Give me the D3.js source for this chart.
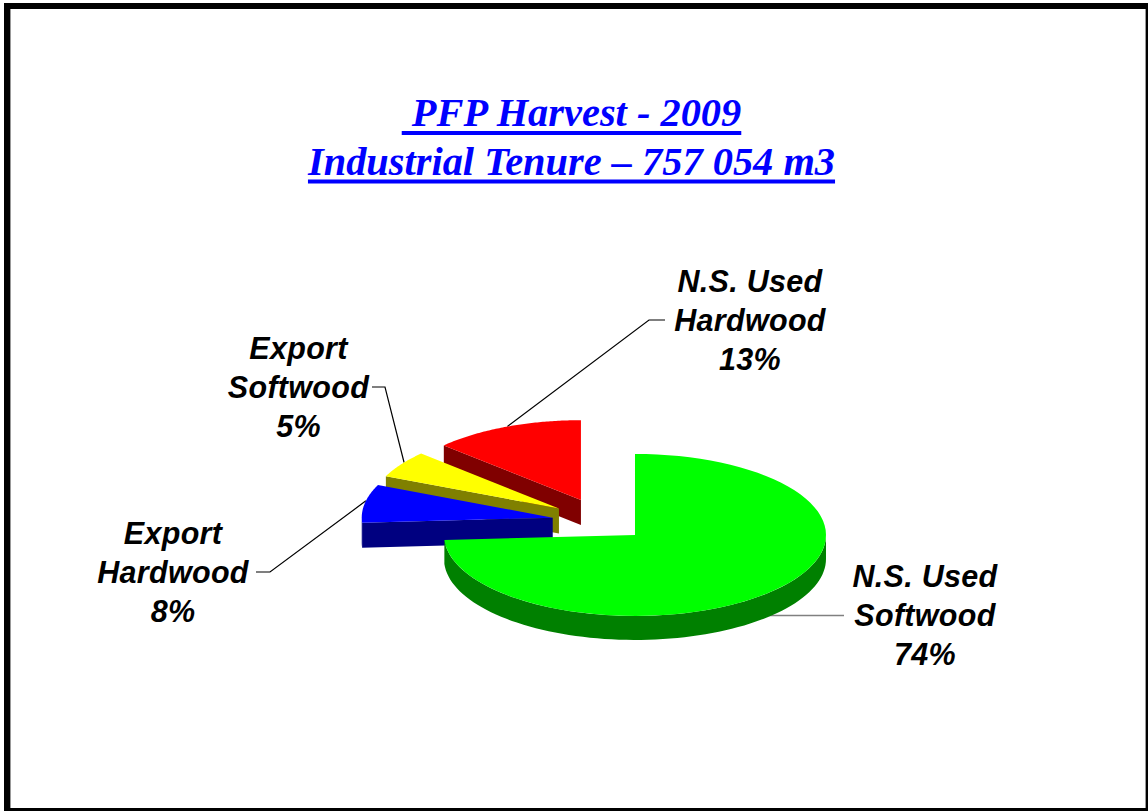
<!DOCTYPE html>
<html><head><meta charset="utf-8">
<script src="https://cdn.jsdelivr.net/npm/d3@7"></script>
<style>html,body{margin:0;padding:0;background:#fff;overflow:hidden}svg{display:block}</style>
</head><body><svg id="c" width="1148" height="811"></svg>
<script>
// Data
const categories = ["N.S. Used Softwood","Export Hardwood","Export Softwood","N.S. Used Hardwood"];
const percents = [74,7.6,5.4,13];
const titleLines = ["\u00a0PFP Harvest - 2009","Industrial Tenure \u2013 757 054 m3"];
const labelLines = [["N.S. Used","Softwood","74%"],["Export","Hardwood","8%"],["Export","Softwood","5%"],["N.S. Used","Hardwood","13%"]];
const topColors = ["#00ff00","#0000ff","#ffff00","#ff0000"];
const wallColors = ["#008000","#000080","#808000","#800000"];

// Layout
const cx=600, cy=520, rx=191, ry=81;
const depths=[24,25,25,25];
const explodeX=48, explodeY=21.8;
const nudges=[[0,0],[0,1.5],[-1,0.5],[0,0]];
const radiusScale=[1,1,0.99,0.985];
const labelPos=[{x:925,y:587},{x:173,y:544},{x:298.5,y:359},{x:750,y:292}];
const leaders=[
  {a:149,knee:[800,615.5],end:[844,615.5],color:"#808080",w:1.6},
  {a:282,knee:[270,572],end:[256,572],color:"#000",w:1.2},
  {a:305,knee:[385,387],end:[372,387],color:"#000",w:1.2},
  {a:337,knee:[649,320],end:[665,320],color:"#000",w:1.2}
];

const svg=d3.select("#c");
const xs=d3.scaleLinear().domain([-1,1]).range([-rx,rx]);
const ys=d3.scaleLinear().domain([-1,1]).range([-ry,ry]);
const pie=d3.pie().sort(null).value(d=>d)(percents);

const slices=pie.map((p,i)=>{
  const mid=(p.startAngle+p.endAngle)/2;
  return {i,start:p.startAngle,end:p.endAngle,k:radiusScale[i],
    ox:cx+explodeX*Math.sin(mid)+nudges[i][0], oy:cy-explodeY*Math.cos(mid)+nudges[i][1]};
});
const rim=(s,a)=>[s.ox+s.k*xs(Math.sin(a)), s.oy+s.k*ys(-Math.cos(a))];
const line=d3.line();
const arcPts=(s,a0,a1)=>d3.range(0,81).map(k=>rim(s,a0+(a1-a0)*k/80));

// Frame
svg.append("rect").attr("x",4).attr("y",3).attr("width",1144).attr("height",808).attr("fill","#000");
svg.append("rect").attr("x",10).attr("y",9).attr("width",1136).attr("height",799).attr("fill","#fff");
svg.append("rect").attr("x",10).attr("y",9).attr("width",1).attr("height",799).attr("fill","#999");
svg.append("rect").attr("x",1145).attr("y",9).attr("width",1).attr("height",799).attr("fill","#999");

// Leader lines sit behind the slices
leaders.forEach((l,i)=>{
  const p=rim(slices[i],l.a*Math.PI/180);
  const q=i===0?[p[0],l.knee[1]]:p;
  svg.append("path").attr("d",line(i===0?[q,l.end]:[q,l.knee,l.end]))
    .attr("fill","none").attr("stroke",l.color).attr("stroke-width",l.w);
});

// Draw slices back to front: red, yellow, blue, green
[3,2,1,0].forEach(idx=>{
  const s=slices[idx], depth=depths[idx];
  const g=svg.append("g");
  if(idx!==0){
    const p=rim(s,s.start);
    g.append("path").attr("d",line([[s.ox,s.oy],p,[p[0],p[1]+depth],[s.ox,s.oy+depth]])+"Z")
      .attr("fill",wallColors[idx]);
  }
  const w0=Math.max(s.start,Math.PI/2), w1=Math.min(s.end,Math.PI*1.5);
  if(w1>w0){
    const top=arcPts(s,w0,w1);
    const bot=top.map(p=>[p[0],p[1]+depth]).reverse();
    g.append("path").attr("d",line(top.concat(bot))+"Z").attr("fill",wallColors[idx]);
  }
  const face=[[s.ox,s.oy]].concat(arcPts(s,s.start,s.end));
  g.append("path").attr("d",line(face)+"Z").attr("fill",topColors[idx]);
});

// Labels
labelLines.forEach((ls,i)=>{
  ls.forEach((t,k)=>{
    svg.append("text").attr("x",labelPos[i].x).attr("y",labelPos[i].y+k*39.2)
      .attr("text-anchor","middle").style("letter-spacing","0.3px")
      .style("font-family","'Liberation Sans'").style("font-style","italic").style("font-weight","bold").style("font-size","30.5px")
      .attr("fill","#000").text(t);
  });
});

// Title with a heavy underline sized from the measured text
titleLines.forEach((t,k)=>{
  const y=126+k*48.5;
  const txt=svg.append("text").attr("x",571.5).attr("y",y)
    .attr("text-anchor","middle")
    .style("font","italic bold 40.4px 'Liberation Serif'").attr("fill","#0000ff").text(t);
  const w=txt.node().getComputedTextLength();
  svg.append("rect").attr("x",571.5-w/2).attr("y",y+5).attr("width",w).attr("height",4).attr("fill","#0000ff");
});
</script></body></html>
